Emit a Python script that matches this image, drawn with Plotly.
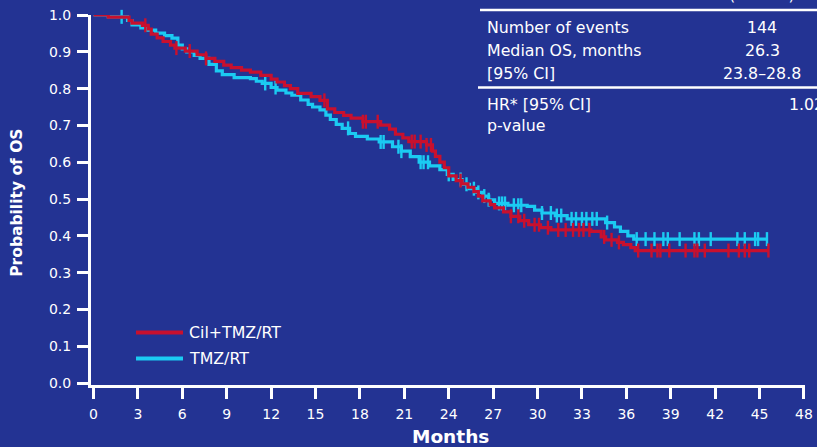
import numpy as np
import plotly.graph_objects as go

# ---- Kaplan-Meier step data (months, survival probability) ----
cil_t = [0, 1.0, 2.4, 2.6, 3.3, 3.7, 3.9, 4.3, 4.7, 5.2, 5.5, 6.2, 7.0, 7.6, 8.2, 8.8,
         9.3, 10.0, 10.6, 11.3, 12.0, 12.4, 12.9, 13.3, 13.8, 14.7, 15.3, 15.8, 16.3,
         16.9, 17.4, 18.2, 19.4, 20.0, 20.4, 20.9, 21.3, 22.5, 22.9, 23.1, 23.4, 23.7,
         24.0, 24.5, 24.9, 25.3, 25.7, 26.0, 26.3, 26.8, 27.1, 27.7, 28.2, 28.8, 29.4,
         30.2, 30.9, 33.6, 34.3, 34.6, 35.4, 35.8, 36.3, 36.6]
cil_s = [1.0, 0.994, 0.985, 0.978, 0.972, 0.962, 0.948, 0.938, 0.928, 0.918, 0.910,
         0.902, 0.892, 0.882, 0.874, 0.864, 0.857, 0.850, 0.845, 0.836, 0.826, 0.818,
         0.808, 0.800, 0.787, 0.778, 0.768, 0.745, 0.735, 0.727, 0.720, 0.710, 0.701,
         0.690, 0.676, 0.666, 0.656, 0.647, 0.630, 0.616, 0.600, 0.585, 0.563, 0.550,
         0.541, 0.532, 0.520, 0.508, 0.495, 0.485, 0.476, 0.465, 0.453, 0.441, 0.430,
         0.422, 0.416, 0.412, 0.397, 0.389, 0.382, 0.376, 0.368, 0.360]
cil_cens = [3.5, 5.6, 6.5, 7.6, 15.6, 18.2, 18.4, 19.2, 21.5, 21.7, 22.1, 22.5, 22.8,
            24.8, 28.2, 28.7, 29.1, 29.8, 30.1, 30.7, 31.4, 31.9, 32.4, 32.8, 33.1,
            33.5, 34.5, 35.0, 35.5, 36.8, 37.7, 38.1, 38.3, 38.9, 40.0, 40.6, 40.8,
            41.3, 42.9, 43.6, 44.0, 44.3, 45.6]

tmz_t = [0, 1.0, 2.3, 2.6, 3.2, 3.6, 4.2, 4.8, 5.3, 5.7, 6.0, 6.3, 6.8, 7.2, 7.8, 8.3,
         8.7, 9.5, 10.6, 11.0, 11.4, 12.0, 12.4, 13.0, 13.4, 14.0, 14.5, 14.8, 15.3,
         15.7, 16.0, 16.4, 16.8, 17.3, 17.7, 18.5, 19.3, 20.2, 20.8, 21.4, 22.0, 22.7,
         23.4, 23.9, 24.3, 24.9, 25.4, 25.9, 26.3, 26.7, 27.1, 28.0, 29.3, 29.8, 30.3,
         31.2, 32.0, 34.6, 35.2, 35.6, 36.1, 36.5]
tmz_s = [1.0, 0.995, 0.985, 0.973, 0.965, 0.959, 0.951, 0.944, 0.937, 0.918, 0.908,
         0.900, 0.890, 0.882, 0.866, 0.848, 0.838, 0.830, 0.827, 0.820, 0.814, 0.803,
         0.796, 0.788, 0.782, 0.769, 0.757, 0.750, 0.742, 0.728, 0.716, 0.703, 0.692,
         0.678, 0.670, 0.663, 0.655, 0.642, 0.630, 0.615, 0.600, 0.590, 0.580, 0.567,
         0.553, 0.540, 0.528, 0.518, 0.508, 0.498, 0.488, 0.483, 0.480, 0.470, 0.462,
         0.455, 0.446, 0.436, 0.424, 0.412, 0.400, 0.391]
tmz_cens = [1.9, 11.6, 12.3, 17.2, 19.4, 19.6, 20.6, 20.8, 22.1, 22.3, 22.6, 24.0,
            24.8, 25.2, 25.7, 26.0, 26.4, 26.7, 27.4, 27.6, 27.8, 28.4, 28.7, 28.9,
            30.3, 30.9, 31.3, 31.6, 32.3, 32.6, 33.0, 33.3, 33.7, 34.0, 34.7, 36.7,
            37.3, 37.9, 38.5, 38.8, 39.6, 40.6, 40.9, 41.7, 43.5, 44.0, 44.7, 44.9,
            45.5]

x_ticks = list(range(0, 49, 3))
y_ticks = [round(0.1 * i, 1) for i in range(11)]

# table text
table_rows = ["Number of events", "Median OS, months", "[95% CI]"]
table_vals = ["144", "26.3", "23.8\u201328.8"]
hr_rows = ["HR* [95% CI]", "p-value"]
hr_val = "1.02"

BG = "#233393"
RED = "#C8102E"
CYAN = "#1BCBF2"
WHITE = "#FFFFFF"
FONT = "DejaVu Sans"

W, H = 817, 447
L, R, T, B = 91, 12, 15, 61.5
PW, PH = W - L - R, H - T - B


def px(x):
    return (x - L) / PW


def py(y):
    return (H - B - y) / PH


def step_value(t, s, c):
    idx = np.searchsorted(np.asarray(t), np.asarray(c), side="right") - 1
    return np.asarray(s)[idx]


def note(x, y, text, size, anchor="left", **kw):
    return dict(x=px(x), y=py(y), xref="paper", yref="paper", text=text,
                showarrow=False, xanchor=anchor, yanchor=kw.pop("yanchor", "middle"),
                font=dict(family=FONT, size=size, color=WHITE), **kw)


fig = go.Figure()

series = [
    ("TMZ/RT", tmz_t, tmz_s, tmz_cens, CYAN),
    ("Cil+TMZ/RT", cil_t, cil_s, cil_cens, RED),
]
for name, t, s, cens, col in series:
    t_full = list(t) + [max(cens)]
    s_full = list(s) + [s[-1]]
    fig.add_trace(go.Scatter(
        x=t_full, y=s_full, mode="lines", name=name,
        line=dict(color=col, width=3.2, shape="hv"),
        cliponaxis=False, showlegend=False,
    ))
    fig.add_trace(go.Scatter(
        x=cens, y=step_value(t, s, cens), mode="markers", name=name + " censored",
        marker=dict(symbol="line-ns", size=10, line=dict(color=col, width=2.4)),
        cliponaxis=False, showlegend=False,
    ))

fig.update_xaxes(
    range=[-0.17, 48.07], tickvals=x_ticks, ticktext=[str(v) for v in x_ticks],
    showline=True, linecolor=WHITE, linewidth=3, ticks="outside", ticklen=11,
    tickwidth=3, tickcolor=WHITE, showgrid=False, zeroline=False, automargin=False,
    ticklabelstandoff=3,
    tickfont=dict(family=FONT, size=14, color=WHITE),
)
fig.update_yaxes(
    range=[-0.0054, 1.0], tickvals=y_ticks, ticktext=[f"{v:.1f}" for v in y_ticks],
    showline=True, linecolor=WHITE, linewidth=3, ticks="outside", ticklen=11,
    tickwidth=3, tickcolor=WHITE, showgrid=False, zeroline=False, automargin=False,
    ticklabelstandoff=3,
    tickfont=dict(family=FONT, size=14, color=WHITE),
)

ann = []
# axis titles
ann.append(note(450, 437, "<b>Months</b>", 18.5, anchor="center"))
ann.append(note(17, 203, "<b>Probability of OS</b>", 15.5, anchor="center",
                textangle=-90))

# legend
for (label, col), yy in zip([("Cil+TMZ/RT", RED), ("TMZ/RT", CYAN)], [333, 359]):
    fig.add_shape(type="line", xref="paper", yref="paper",
                  x0=px(136), x1=px(183), y0=py(yy), y1=py(yy),
                  line=dict(color=col, width=4))
    ann.append(note(187, yy, label, 15.8))

# summary table
ann.append(note(762, 6, "(n=272)", 15.8, anchor="center", yanchor="bottom"))
for lab, val, yy in zip(table_rows, table_vals, [27.5, 50.5, 73.5]):
    ann.append(note(485, yy, lab, 15.8))
    ann.append(note(762, yy, val, 15.8, anchor="center"))
for lab, yy in zip(hr_rows, [104.5, 126]):
    ann.append(note(485, yy, lab, 15.8))
ann.append(note(787, 104.5, hr_val, 15.8))

for yy, x0 in [(10, 480), (87.5, 478)]:
    fig.add_shape(type="line", xref="paper", yref="paper",
                  x0=px(x0), x1=px(W + 5), y0=py(yy), y1=py(yy),
                  line=dict(color=WHITE, width=2.5))

fig.update_layout(
    width=W, height=H, margin=dict(l=L, r=R, t=T, b=B, autoexpand=False),
    paper_bgcolor=BG, plot_bgcolor=BG, annotations=ann, showlegend=False,
)

fig.write_html("out.html")
